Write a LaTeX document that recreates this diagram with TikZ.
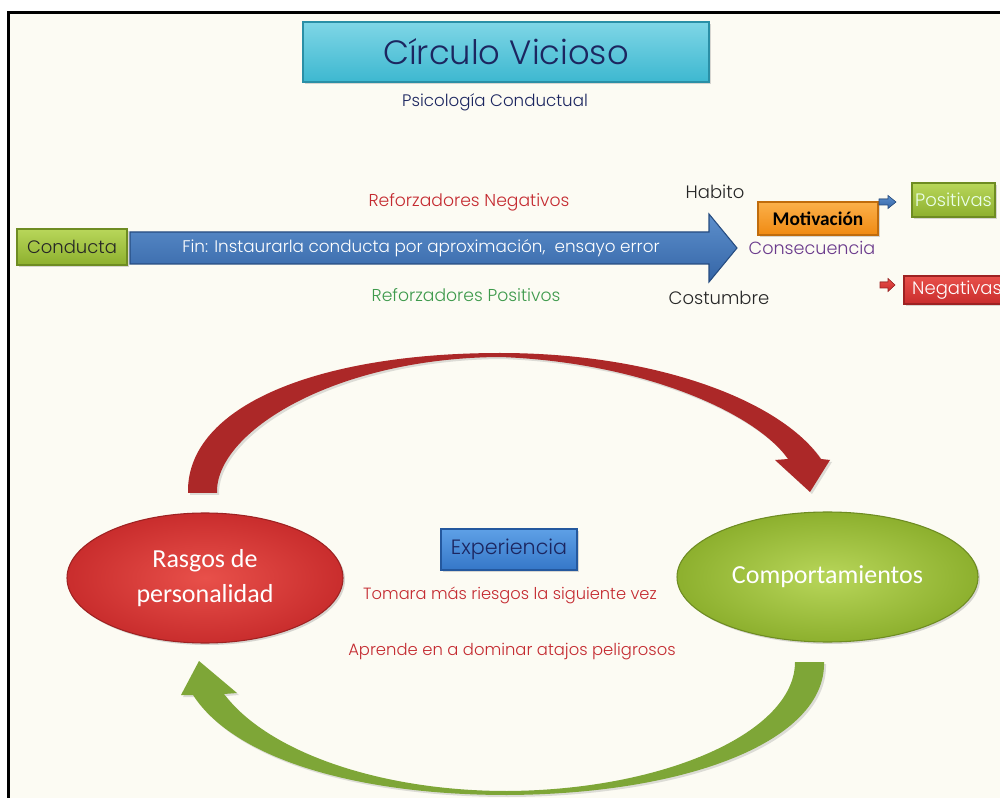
\documentclass[tikz,border=0pt]{standalone}
\usepackage{fontspec}
\setmainfont{Poppins}[UprightFont=* Light, BoldFont=* Medium]
\newfontfamily\calib{Carlito}
\usetikzlibrary{shapes.geometric,shadows}
\definecolor{cream}{HTML}{FCFBF3}
\definecolor{navy}{HTML}{1C2660}
\definecolor{cyanL}{HTML}{7FD6E6}
\definecolor{cyanM}{HTML}{3DB8D0}
\definecolor{cyanD}{HTML}{2A8FA6}
\definecolor{grL}{HTML}{B8D65A}
\definecolor{grM}{HTML}{8DB02E}
\definecolor{grD}{HTML}{6E8C22}
\definecolor{blL}{HTML}{5C8FCC}
\definecolor{blM}{HTML}{3565A6}
\definecolor{blD}{HTML}{264C80}
\definecolor{orL}{HTML}{FBB04A}
\definecolor{orM}{HTML}{F08A12}
\definecolor{orD}{HTML}{C06C0C}
\definecolor{rdL}{HTML}{E8504A}
\definecolor{rdM}{HTML}{C92D2D}
\definecolor{rdD}{HTML}{9E2222}
\definecolor{txtred}{HTML}{C42A30}
\definecolor{txtgreen}{HTML}{3E9A4C}
\definecolor{txtpurple}{HTML}{6A3A8C}
\definecolor{txtdark}{HTML}{262626}
\definecolor{arcred}{HTML}{AC2828}
\definecolor{arcgreen}{HTML}{7EA637}
\definecolor{exL}{HTML}{5EA0E6}
\definecolor{exM}{HTML}{3577C8}
\definecolor{exD}{HTML}{24589E}
\tikzset{
  boxbase/.style={rectangle, inner sep=0pt, line width=0.8pt,
    drop shadow={opacity=0.3, shadow xshift=1.5pt, shadow yshift=-1.5pt}},
  titlebox/.style={boxbase, draw=cyanD, top color=cyanL, bottom color=cyanM, text=navy},
  greenbox/.style={boxbase, draw=grD, top color=grL, bottom color=grM},
  orangebox/.style={boxbase, draw=orD, top color=orL, bottom color=orM},
  redbox/.style={boxbase, draw=rdD, top color=rdL, bottom color=rdM},
  expbox/.style={boxbase, draw=exD, top color=exL, bottom color=exM, text=navy},
  plain/.style={inner sep=0pt},
  bluearrow/.style={draw=blD, line width=0.8pt, top color=blL, bottom color=blM},
  ovalred/.style={ellipse, inner sep=0pt, draw=rdD, line width=0.8pt, inner color=rdL, outer color=rdM,
    drop shadow={opacity=0.3, shadow xshift=1.5pt, shadow yshift=-1.5pt}},
  ovalgreen/.style={ellipse, inner sep=0pt, draw=grD, line width=0.8pt, inner color=grL, outer color=grM,
    drop shadow={opacity=0.3, shadow xshift=1.5pt, shadow yshift=-1.5pt}},
}
\begin{document}
\begin{tikzpicture}[x=0.75pt,y=-0.75pt]
\useasboundingbox (0,0) rectangle (1000,798);
\fill[white] (0,0) rectangle (1000,798);
\fill[cream] (8.5,12.5) rectangle (1000,798);
\draw[line width=1.8pt] (8.5,798) -- (8.5,12.5) -- (1000,12.5);

% title
\node[titlebox, minimum width=406*0.75pt, minimum height=60*0.75pt, font=\fontsize{25.3}{30}\selectfont] (title) at (506,52)
  {Círculo Vicioso};
\node[plain, text=navy, font=\fontsize{12.5}{14}\selectfont] (psico) at (495,102) {Psicología Conductual};

% top row
\node[greenbox, minimum width=110*0.75pt, minimum height=36*0.75pt, text=txtdark, font=\fontsize{13.5}{15}\selectfont] (conducta) at (72,247)
  {Conducta};
\coordinate (a1) at (130,232); \coordinate (a2) at (709,232); \coordinate (a3) at (709,214);
\coordinate (a4) at (737,248); \coordinate (a5) at (709,282); \coordinate (a6) at (709,264);
\coordinate (a7) at (130,264);
\path[bluearrow] (a1) -- (a2) -- (a3) -- (a4) -- (a5) -- (a6) -- (a7) -- cycle;
\node[plain, text=white, font=\fontsize{12.6}{14}\selectfont] (fin) at (421,248)
  {Fin: Instaurarla conducta por aproximación,\ \ ensayo error};
\node[plain, text=txtred, font=\fontsize{12.9}{14}\selectfont] (refneg) at (469,202) {Reforzadores Negativos};
\node[plain, text=txtgreen, font=\fontsize{12.9}{14}\selectfont] (refpos) at (466,295) {Reforzadores Positivos};
\node[plain, text=txtdark, font=\fontsize{13.5}{15}\selectfont] (habito) at (715,192) {Habito};
\node[plain, text=txtdark, font=\fontsize{13.5}{15}\selectfont] (costumbre) at (719,298) {Costumbre};
\node[orangebox, minimum width=120*0.75pt, minimum height=33*0.75pt, text=black, font=\calib\bfseries\fontsize{14.5}{16}\selectfont] (motiv) at (818,218.5)
  {Motivación};
\node[plain, text=txtpurple, font=\fontsize{13.2}{15}\selectfont] (consec) at (812,248) {Consecuencia};

% small arrows
\fill[top color=blL, bottom color=blM, draw=blD, line width=0.4pt]
  (879,199) -- (888,199) -- (888,195.5) -- (896,202) -- (888,208.5) -- (888,205) -- (879,205) -- cycle;
\fill[top color=rdL, bottom color=rdM, draw=rdD, line width=0.4pt]
  (880,282) -- (888,282) -- (888,278.5) -- (895,285) -- (888,291.5) -- (888,288) -- (880,288) -- cycle;
\node[greenbox, minimum width=83*0.75pt, minimum height=34*0.75pt, text=white!92!green, font=\fontsize{13.5}{15}\selectfont] (positivas) at (953.5,200)
  {Positivas};
\node[redbox, minimum width=106*0.75pt, minimum height=28*0.75pt, text=white, font=\fontsize{13.5}{15}\selectfont] (negativas) at (957,290)
  {Negativas};

% cycle
\node[ovalred, minimum width=276*0.75pt, minimum height=130*0.75pt, text=white, align=center, font=\calib\fontsize{19.5}{26}\selectfont] (rasgos) at (205,578)
  {Rasgos de\\personalidad};
\node[ovalgreen, minimum width=301*0.75pt, minimum height=130*0.75pt, text=white, font=\calib\fontsize{19.5}{26}\selectfont] (comport) at (827.5,577)
  {Comportamientos};
\node[expbox, minimum width=136*0.75pt, minimum height=41*0.75pt, font=\fontsize{15.5}{17}\selectfont] (exper) at (509,549.5)
  {Experiencia};
\node[plain, text=txtred, font=\fontsize{12.2}{14}\selectfont] (tomara) at (510,595) {Tomara más riesgos la siguiente vez};
\node[plain, text=txtred, font=\fontsize{12.3}{14}\selectfont] (aprende) at (512,652) {Aprende en a dominar atajos peligrosos};

% red arc (rasgos -> comportamientos)
\fill[arcred, drop shadow={opacity=0.25, shadow xshift=1.5pt, shadow yshift=-1.5pt}]
  (188,493) .. controls (186,405) and (320,353) .. (500,353)
  .. controls (655,353) and (780,400) .. (821,459)
  -- (830,460) -- (810,492) -- (775,460) -- (788,459)
  .. controls (755,412) and (640,362) .. (500,357)
  .. controls (335,358) and (215,432) .. (217,493) -- cycle;

% green arc (comportamientos -> rasgos)
\fill[arcgreen, drop shadow={opacity=0.25, shadow xshift=1.5pt, shadow yshift=-1.5pt}]
  (824,662) .. controls (826,740) and (690,794) .. (507,795)
  .. controls (360,795) and (235,760) .. (193,695)
  -- (181,695) -- (199,661) -- (237,693) -- (224,694)
  .. controls (268,752) and (380,791) .. (507,791)
  .. controls (665,790) and (795,732) .. (795,662) -- cycle;
\end{tikzpicture}
\end{document}
